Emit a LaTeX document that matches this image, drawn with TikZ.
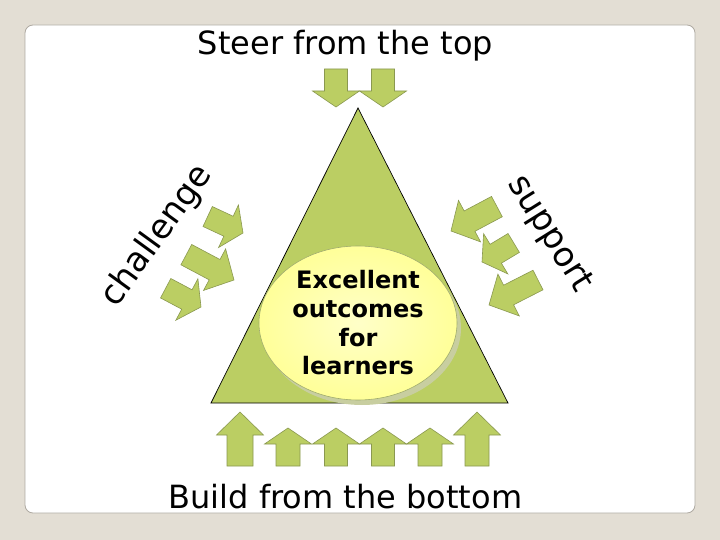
\documentclass[tikz,border=0pt]{standalone}
\usepackage{fontspec}
\setmainfont{DejaVu Sans}
\definecolor{bgc}{RGB}{227,222,212}
\definecolor{panelline}{RGB}{175,170,162}
\definecolor{leaf}{RGB}{187,206,99}
\definecolor{leafline}{RGB}{138,152,80}
\definecolor{paleyellow}{RGB}{255,255,153}
\definecolor{paleyellowc}{RGB}{255,255,200}
\definecolor{ellline}{RGB}{160,172,110}
\definecolor{ellshadow}{RGB}{200,206,160}
\newcommand\blockarrow[5]{%
  \draw[arrowshape, shift={#1}, rotate=#2]
    (0,0) -- (-#4,23.5) -- (-#4,#5/2) -- (-#3,#5/2) -- (-#3,-#5/2)
    -- (-#4,-#5/2) -- (-#4,-23.5) -- cycle;}
\begin{document}
\begin{tikzpicture}[x=1pt,y=-1pt,
  arrowshape/.style={fill=leaf, draw=leafline, line width=0.6pt, line join=miter},
  bigtext/.style={font=\fontsize{32}{38}\selectfont, inner sep=0pt},
  sidetext/.style={font=\fontsize{34}{40}\selectfont, inner sep=0pt}]
\useasboundingbox (0,0) rectangle (720,540);
\fill[bgc] (0,0) rectangle (720,540);
\draw[panelline, fill=white, line width=0.8pt, rounded corners=8pt] (25,25) rectangle (695,513);

% triangle
\draw[fill=leaf, draw=black, line width=0.7pt] (358,108) -- (508,403) -- (211,403) -- cycle;

% top arrows
\blockarrow{(336,107)}{-90}{38}{16}{23}
\blockarrow{(383,107)}{-90}{38}{16}{23}

% bottom arrows
\blockarrow{(240,412)}{90}{54}{23}{26}
\blockarrow{(288,428)}{90}{38}{16}{24}
\blockarrow{(336,428)}{90}{38}{16}{23}
\blockarrow{(383,428)}{90}{38}{16}{23}
\blockarrow{(430,428)}{90}{38}{16}{24}
\blockarrow{(477,412)}{90}{54}{23}{24}

% challenge arrows
\blockarrow{(243,233)}{-25}{39}{16}{22}
\blockarrow{(234,280)}{-28}{54}{22}{23}
\blockarrow{(201,307)}{-28}{40}{16}{22}

% support arrows
\blockarrow{(451,231)}{-152}{52}{21}{23}
\blockarrow{(482,262)}{-149}{37}{16}{22}
\blockarrow{(489,305)}{-153}{55}{22}{22}

% ellipse
\fill[ellshadow] (362,328) ellipse [x radius=99pt, y radius=77pt];
\draw[ellline, line width=0.6pt, inner color=paleyellowc, outer color=paleyellow] (358,323) ellipse [x radius=99pt, y radius=77pt];
\node[font=\bfseries\fontsize{24}{28.7}\selectfont, align=center, inner sep=0pt] (outcome) at (358,323) {Excellent\\outcomes\\for\\learners};

% texts
\node[bigtext, anchor=base] (steer) at (345.5,55) {Steer from the top};
\node[bigtext, anchor=base] (build) at (345.5,508) {Build from the bottom};
\node[sidetext, rotate=54] (challenge) at (157,236) {challenge};
\node[sidetext, rotate=-58] (support) at (549,234) {support};
\end{tikzpicture}
\end{document}
